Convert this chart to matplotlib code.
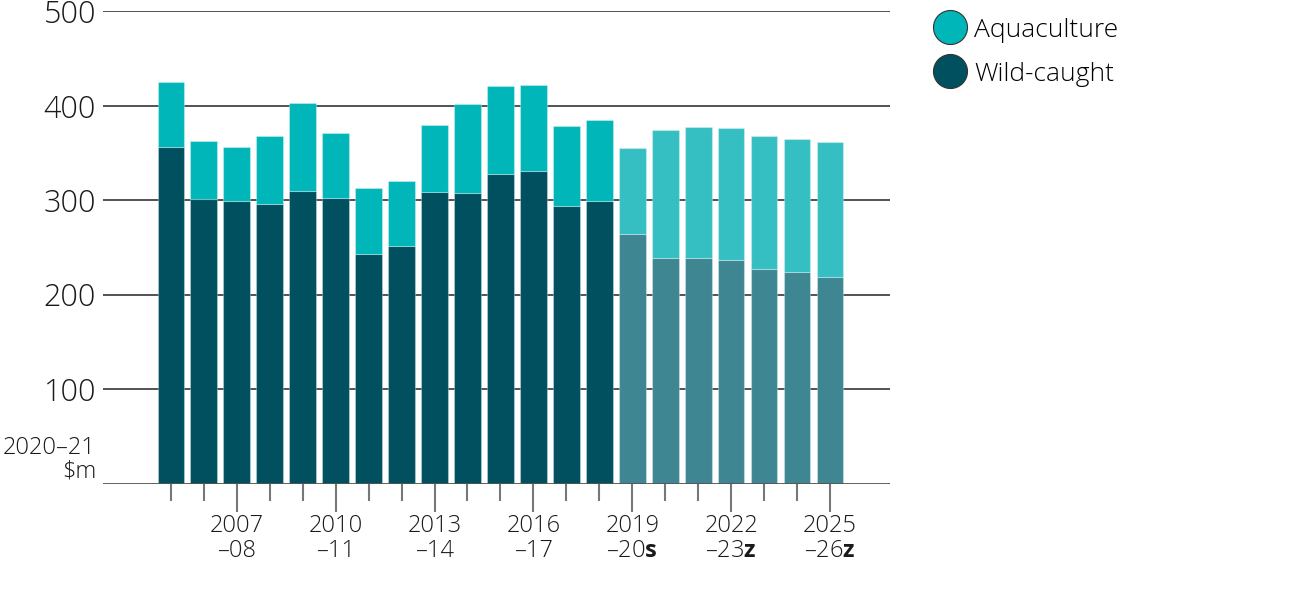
import numpy as np
import matplotlib.pyplot as plt
from matplotlib.lines import Line2D

# ---- data (2020-21 $m) ----
years = ["2005-06", "2006-07", "2007-08", "2008-09", "2009-10", "2010-11", "2011-12",
         "2012-13", "2013-14", "2014-15", "2015-16", "2016-17", "2017-18", "2018-19",
         "2019-20", "2020-21", "2021-22", "2022-23", "2023-24", "2024-25", "2025-26"]
wild = [356, 301, 299, 296, 310, 302, 243, 251, 308, 307, 327, 331, 294, 299,
        264, 239, 239, 236, 227, 224, 219]
aqua = [69, 61, 57, 72, 93, 69, 70, 69, 71, 95, 94, 91, 84, 86,
        91, 135, 138, 140, 141, 141, 142]
first_proj = 14  # 2019-20 onwards drawn lighter

tick_labels = {2: ("2007", "\u201308"), 5: ("2010", "\u201311"), 8: ("2013", "\u201314"),
               11: ("2016", "\u201317"), 14: ("2019", "\u201320", "s"),
               17: ("2022", "\u201323", "z"), 20: ("2025", "\u201326", "z")}

WILD, AQUA = "#00505f", "#00b6b9"
WILD_P, AQUA_P = "#3f8693", "#36bfc3"

plt.rcParams['font.family'] = ['Open Sans', 'DejaVu Sans']
plt.rcParams['font.weight'] = 'light'
plt.rcParams['mathtext.fontset'] = 'custom'
plt.rcParams['mathtext.rm'] = 'Open Sans:light'
plt.rcParams['mathtext.bf'] = 'Open Sans:bold'

fig = plt.figure(figsize=(13.14, 5.89), dpi=100)
ax = fig.add_axes([103 / 1314, 1 - 483.5 / 589, (890 - 103) / 1314, 472.5 / 589])

x = np.arange(len(years))
wcol = [WILD if i < first_proj else WILD_P for i in x]
acol = [AQUA if i < first_proj else AQUA_P for i in x]
ax.bar(x, wild, width=0.81, color=wcol, edgecolor=(1, 1, 1, 0.3), linewidth=0.8, zorder=3)
ax.bar(x, aqua, bottom=wild, width=0.81, color=acol, edgecolor=(1, 1, 1, 0.3),
       linewidth=0.8, zorder=3)

ax.set_xlim(-2.06, 21.82)
ax.set_ylim(0, 500)
for s in ax.spines.values():
    s.set_visible(False)
for v in [100, 200, 300, 400, 500]:
    ax.axhline(v, color="#444444", lw=1.3, zorder=1)
ax.axhline(0, color="#555555", lw=1.3, zorder=4)

ax.set_yticks([100, 200, 300, 400, 500])
ax.set_yticklabels(["100", "200", "300", "400", "500"], fontsize=22, color="#1a1a1a")
ax.tick_params(axis="y", length=0, pad=5)
ax.text(-0.009, 0.0, "2020\u201321\n$m", transform=ax.transAxes, ha="right", va="bottom",
        fontsize=17, linespacing=1.0, color="#1a1a1a")

# x ticks: short minor ticks under every bar, longer ones under labelled bars
ax.set_xticks([i for i in x if i not in tick_labels], minor=True)
ax.set_xticks(sorted(tick_labels))
labs = []
for i in sorted(tick_labels):
    t = tick_labels[i]
    second = t[1] + (r"$\mathbf{%s}$" % t[2] if len(t) > 2 else "")
    labs.append(t[0] + "\n" + second)
ax.set_xticklabels(labs, fontsize=17, linespacing=1.05, color="#1a1a1a")
ax.tick_params(axis="x", which="major", length=20, width=1.5, color="#777777", pad=2)
ax.tick_params(axis="x", which="minor", length=12, width=1.5, color="#777777")

handles = [Line2D([], [], ls="", marker="o", ms=24.5, mfc=AQUA, mec="#333333", mew=0.8),
           Line2D([], [], ls="", marker="o", ms=24.5, mfc=WILD, mec="#333333", mew=0.8)]
fig.legend(handles, ["Aquaculture", "Wild-caught"], loc="upper left",
           bbox_to_anchor=(910 / 1314, 1.006), frameon=False, fontsize=19,
           handletextpad=0.22, labelspacing=0.72, borderpad=0.3, handlelength=1.4)

fig.savefig("out.png", dpi=100)
